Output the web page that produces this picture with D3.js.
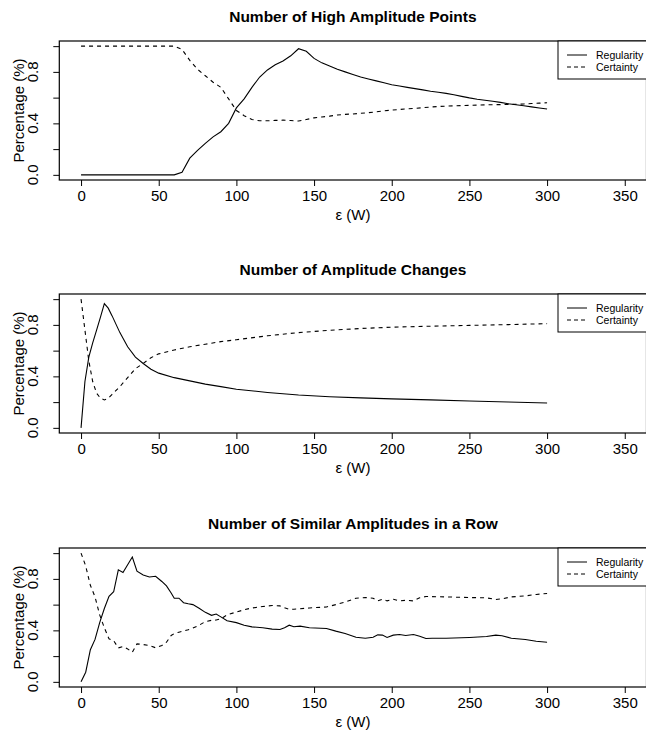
<!DOCTYPE html>
<html>
<head>
<meta charset="utf-8">
<script src="https://d3js.org/d3.v7.min.js"></script>
<style>
body { margin: 0; background: #fff; }
text { font-family: "Liberation Sans", Arial, Helvetica, sans-serif; fill: #000; }
</style>
</head>
<body>
<div id="chart"></div>
<script>
// ---- data ----
const titles = ["Number of High Amplitude Points", "Number of Amplitude Changes", "Number of Similar Amplitudes in a Row"];
const xTicks = [0, 50, 100, 150, 200, 250, 300, 350];
const yTicks = [0, 0.2, 0.4, 0.6, 0.8, 1.0];
const yLabelTicks = [0, 0.4, 0.8];
const legendKeys = ["Regularity", "Certainty"];
const xTitle = "\u03b5 (W)";
const yTitle = "Percentage (%)";

// panel 1: high amplitude points
const epsHigh = [0,5,10,15,20,25,30,35,40,45,50,55,60,65,70,75,80,85,90,95,100,105,110,115,120,125,130,135,140,145,150,155,160,165,170,175,180,185,190,195,200,205,210,215,220,225,230,235,240,245,250,255,260,265,270,275,280,285,290,295,300];
const regHigh = [0,0,0,0,0,0,0,0,0,0,0,0,0,0.02,0.13,0.19,0.245,0.295,0.335,0.40,0.52,0.59,0.68,0.76,0.815,0.855,0.885,0.925,0.98,0.96,0.905,0.87,0.845,0.82,0.80,0.78,0.76,0.745,0.73,0.715,0.70,0.69,0.68,0.67,0.66,0.65,0.642,0.633,0.622,0.61,0.598,0.588,0.58,0.572,0.563,0.553,0.545,0.537,0.528,0.52,0.512];
const certHigh = [1,1,1,1,1,1,1,1,1,1,1,1,1,0.975,0.89,0.82,0.77,0.72,0.68,0.59,0.50,0.46,0.43,0.42,0.42,0.423,0.425,0.422,0.418,0.43,0.443,0.45,0.456,0.465,0.47,0.473,0.478,0.483,0.49,0.497,0.503,0.508,0.513,0.517,0.522,0.527,0.531,0.534,0.536,0.538,0.540,0.542,0.544,0.545,0.546,0.547,0.548,0.551,0.554,0.557,0.56];

// panel 2: amplitude changes
const epsChanges = [0,2.5,5,7.5,10,12.5,15,17.5,20,25,30,35,40,45,50,60,70,80,90,100,120,140,160,180,200,225,250,275,300];
const regChanges = [0,0.36,0.55,0.66,0.76,0.86,0.965,0.93,0.87,0.74,0.63,0.55,0.50,0.455,0.425,0.39,0.365,0.34,0.32,0.30,0.275,0.255,0.242,0.233,0.225,0.217,0.209,0.201,0.193];
const certChanges = [1,0.76,0.52,0.36,0.27,0.23,0.217,0.23,0.26,0.32,0.39,0.46,0.50,0.545,0.575,0.605,0.63,0.65,0.67,0.685,0.715,0.74,0.758,0.772,0.782,0.79,0.796,0.802,0.81];

// panel 3: similar amplitudes in a row
const epsRow = [0,3,6,9,12,15,18,21,24,27,30,33,36,40,44,48,52,55,58,60,63,66,69,72,76,80,84,87,90,94,100,105,110,117,123,128,131,134,137,141,147,158,164,170,177,183,188,191,194,197,201,205,209,214,218,222,226,235,250,261,267,271,277,286,293,300];
const regRow = [0,0.075,0.25,0.33,0.46,0.57,0.665,0.70,0.87,0.85,0.91,0.97,0.86,0.83,0.815,0.82,0.78,0.745,0.69,0.65,0.65,0.615,0.607,0.60,0.572,0.54,0.517,0.527,0.505,0.475,0.46,0.44,0.427,0.42,0.41,0.407,0.42,0.44,0.428,0.433,0.42,0.415,0.394,0.375,0.347,0.339,0.347,0.365,0.363,0.345,0.363,0.368,0.36,0.368,0.355,0.337,0.339,0.339,0.345,0.352,0.363,0.358,0.339,0.329,0.316,0.308];
const certRow = [1,0.9,0.75,0.66,0.52,0.42,0.334,0.32,0.264,0.274,0.256,0.23,0.295,0.29,0.282,0.265,0.282,0.308,0.36,0.375,0.386,0.395,0.405,0.418,0.44,0.468,0.478,0.48,0.49,0.52,0.543,0.56,0.574,0.585,0.593,0.59,0.575,0.564,0.564,0.568,0.574,0.582,0.60,0.62,0.65,0.655,0.65,0.629,0.642,0.629,0.642,0.629,0.634,0.629,0.653,0.663,0.662,0.66,0.655,0.653,0.64,0.645,0.66,0.668,0.679,0.687];

const panels = [
  { title: titles[0], eps: epsHigh, reg: regHigh, cert: certHigh },
  { title: titles[1], eps: epsChanges, reg: regChanges, cert: certChanges },
  { title: titles[2], eps: epsRow, reg: regRow, cert: certRow }
];

// ---- layout ----
const W = 646, H = 735;
const boxLeft = 59.3, boxRight = 646.5;
const boxTops = [41, 294, 548];
const boxH = 139;

const svg = d3.select("#chart").append("svg")
  .attr("width", W).attr("height", H);

const x = d3.scaleLinear().domain([-14, 364]).range([boxLeft, boxRight]);
const fmt = d3.format(".1f");

panels.forEach((p, i) => {
  const top = boxTops[i], bottom = top + boxH;
  const y = d3.scaleLinear().domain([-0.04, 1.04]).range([bottom, top]);
  const g = svg.append("g");

  // title
  g.append("text")
    .attr("x", (boxLeft + boxRight) / 2).attr("y", top - 19)
    .attr("text-anchor", "middle")
    .style("font-size", "15.5px").style("font-weight", "bold")
    .text(p.title);

  // lines
  const pts = p.eps.map((e, k) => [e, p.reg[k], p.cert[k]]);
  const lineReg = d3.line().x(d => x(d[0])).y(d => y(d[1]));
  const lineCert = d3.line().x(d => x(d[0])).y(d => y(d[2]));
  g.append("path").datum(pts).attr("d", lineReg)
    .attr("fill", "none").attr("stroke", "#000").attr("stroke-width", 1.1);
  g.append("path").datum(pts).attr("d", lineCert)
    .attr("fill", "none").attr("stroke", "#000").attr("stroke-width", 1.1)
    .attr("stroke-dasharray", "4,4");

  // box
  g.append("rect")
    .attr("x", boxLeft).attr("y", top)
    .attr("width", boxRight - boxLeft).attr("height", boxH)
    .attr("fill", "none").attr("stroke", "#000").attr("stroke-width", 1.2);

  // x axis
  const xa = g.append("g").attr("transform", `translate(0,${bottom})`)
    .call(d3.axisBottom(x).tickValues(xTicks).tickSize(6).tickPadding(4));
  xa.select(".domain").remove();
  xa.selectAll("text").style("font-size", "15px").attr("fill", "#000");

  // y axis
  const ya = g.append("g").attr("transform", `translate(${boxLeft},0)`)
    .call(d3.axisLeft(y).tickValues(yTicks).tickSize(6).tickFormat(""));
  ya.select(".domain").remove();
  ya.selectAll(".ylab").data(yLabelTicks).enter().append("text")
    .attr("class", "ylab")
    .attr("transform", d => `translate(-21,${y(d)}) rotate(-90)`)
    .attr("text-anchor", "middle")
    .style("font-size", "15px")
    .text(d => fmt(d));

  // axis titles
  g.append("text")
    .attr("transform", `translate(24,${(top + bottom) / 2}) rotate(-90)`)
    .attr("text-anchor", "middle")
    .style("font-size", "15px")
    .text(yTitle);
  g.append("text")
    .attr("x", (boxLeft + boxRight) / 2).attr("y", bottom + 40)
    .attr("text-anchor", "middle")
    .style("font-size", "15px")
    .text(xTitle);

  // legend (top right, runs off the right edge like the original)
  const lg = g.append("g").attr("transform", `translate(558,${top})`);
  lg.append("rect").attr("x", 0).attr("y", 0).attr("width", 100).attr("height", 38)
    .attr("fill", "#fff").attr("stroke", "#000").attr("stroke-width", 1);
  legendKeys.forEach((k, j) => {
    const ly = 14 + j * 12;
    lg.append("line").attr("x1", 9).attr("x2", 29).attr("y1", ly).attr("y2", ly)
      .attr("stroke", "#000").attr("stroke-width", 1)
      .attr("stroke-dasharray", j === 1 ? "4,3" : null);
    lg.append("text").attr("x", 38).attr("y", ly).attr("dy", "0.35em")
      .style("font-size", "10.5px").text(k);
  });
});
</script>
</body>
</html>
